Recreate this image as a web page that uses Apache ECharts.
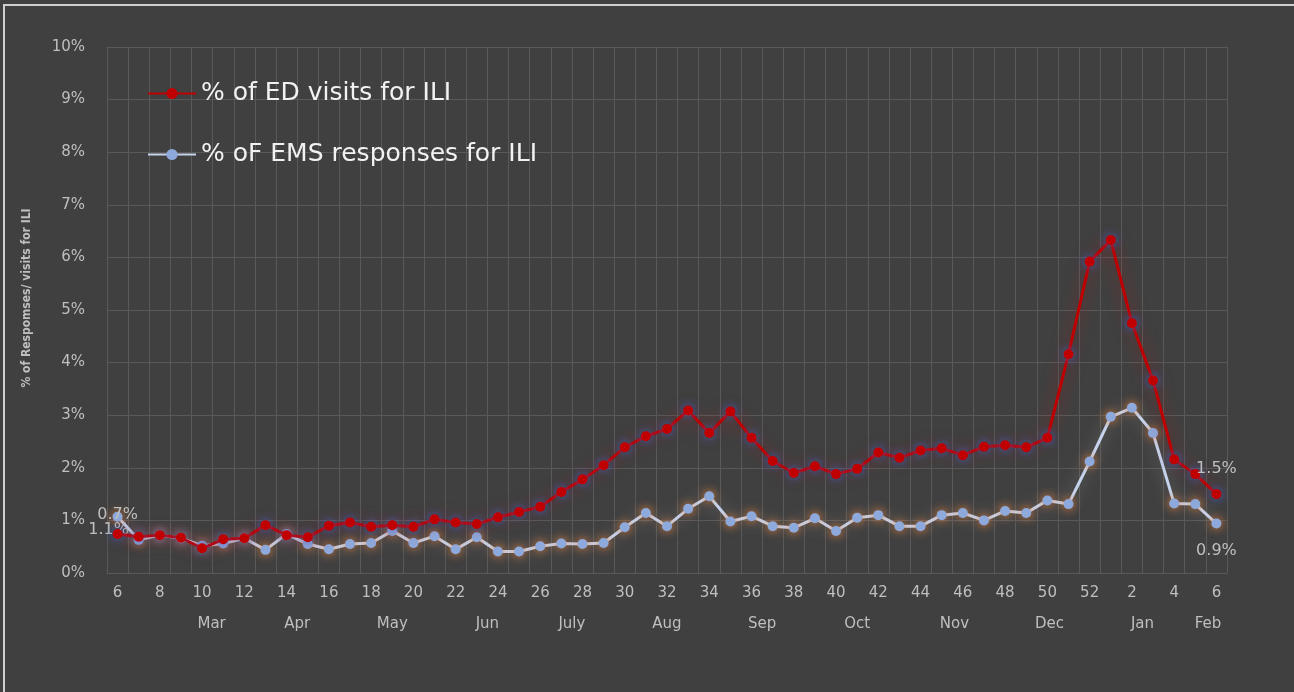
<!DOCTYPE html>
<html>
<head>
<meta charset="utf-8">
<script src="https://cdn.jsdelivr.net/npm/echarts@6/dist/echarts.min.js"></script>
<style>
html,body{margin:0;padding:0;background:#404040;}
#chart{position:absolute;left:0;top:0;width:1294px;height:692px;}
#frame{position:absolute;left:3px;top:4px;right:0;bottom:0;border-top:2px solid #cfcfcf;border-left:2px solid #cfcfcf;pointer-events:none;}
</style>
</head>
<body>
<div id="chart"></div>
<div id="frame"></div>
<script>
// Week labels (weeks 6..52, then 1..6)
var weeks = ['6','7','8','9','10','11','12','13','14','15','16','17','18','19','20','21','22','23','24','25','26','27','28','29','30','31','32','33','34','35','36','37','38','39','40','41','42','43','44','45','46','47','48','49','50','51','52','1','2','3','4','5','6'];
// % of ED visits for ILI
var edVisits = [0.74,0.69,0.72,0.67,0.47,0.64,0.66,0.91,0.72,0.68,0.90,0.96,0.88,0.91,0.88,1.02,0.96,0.93,1.06,1.16,1.26,1.54,1.78,2.05,2.39,2.60,2.74,3.09,2.66,3.07,2.57,2.13,1.90,2.03,1.88,1.98,2.29,2.19,2.33,2.37,2.24,2.40,2.43,2.39,2.57,4.16,5.92,6.33,4.75,3.66,2.16,1.88,1.50];
// % oF EMS responses for ILI
var emsResponses = [1.07,0.63,0.72,0.66,0.52,0.56,0.66,0.44,0.74,0.55,0.45,0.55,0.57,0.80,0.57,0.70,0.45,0.68,0.41,0.41,0.51,0.56,0.55,0.57,0.87,1.14,0.89,1.22,1.46,0.98,1.08,0.89,0.86,1.04,0.80,1.05,1.10,0.89,0.89,1.10,1.14,1.00,1.18,1.14,1.38,1.31,2.12,2.97,3.14,2.66,1.32,1.31,0.94];
// Month group labels and the (fractional) week index each is centred on
var monthNames = ['Mar','Apr','May','Jun','July','Aug','Sep','Oct','Nov','Dec','Jan','Feb'];
var monthCenters = [4.45,8.5,13,17.5,21.5,26,30.5,35,39.6,44.1,48.5,51.6];
var yTicks = [0,1,2,3,4,5,6,7,8,9,10];

var labelColor = '#BFBFBF';
var gridColor = '#595959';
var lastIdx = weeks.length - 1;

function pct(v){ return v.toFixed(1) + '%'; }

var edData = edVisits.map(function(v,i){
  var d = {value: v};
  if (i === 0) d.label = {show:true, position:'top', distance:6, formatter: pct(v)};
  if (i === lastIdx) d.label = {show:true, position:'top', distance:12, formatter: pct(v)};
  return d;
});
var emsData = emsResponses.map(function(v,i){
  var d = {value: v};
  if (i === 0) d.label = {show:true, position:'inside', offset:[-9,13], formatter: pct(v)};
  if (i === lastIdx) d.label = {show:true, position:'bottom', distance:14, formatter: pct(v)};
  return d;
});

var chart = echarts.init(document.getElementById('chart'), null, {renderer:'canvas'});
chart.setOption({
  backgroundColor: '#404040',
  animation: false,
  textStyle: {fontFamily: 'DejaVu Sans'},
  grid: {left:107, right:67, top:47, bottom:119, containLabel:false},
  legend: {
    orient: 'vertical',
    left: 142,
    top: 76,
    itemWidth: 48,
    itemHeight: 14,
    itemGap: 36,
    textStyle: {color:'#F2F2F2', fontSize:25, fontFamily:'DejaVu Sans'},
    data: ['% of ED visits for ILI', '% oF EMS responses for ILI']
  },
  xAxis: [{
    type: 'category',
    data: weeks,
    boundaryGap: true,
    axisLine: {show:true, lineStyle:{color:gridColor}},
    axisTick: {show:false},
    splitLine: {show:true, interval:0, lineStyle:{color:gridColor, width:1}},
    axisLabel: {interval:1, color:labelColor, fontSize:15, margin:13}
  },{
    type: 'value',
    min: -0.5,
    max: 52.5,
    position: 'bottom',
    offset: 31,
    axisLine: {show:false},
    axisTick: {show:false},
    splitLine: {show:false},
    axisLabel: {
      show: true,
      color: labelColor,
      fontSize: 15,
      margin: 13,
      customValues: monthCenters,
      formatter: function(v){
        var k = -1, best = 1e9;
        for (var j=0;j<monthCenters.length;j++){ var d=Math.abs(monthCenters[j]-v); if(d<best){best=d;k=j;} }
        return best < 0.01 ? monthNames[k] : '';
      }
    }
  }],
  yAxis: {
    type: 'value',
    min: yTicks[0],
    max: yTicks[yTicks.length-1],
    interval: 1,
    name: '% of Respomses/ visits for ILI',
    nameLocation: 'middle',
    nameGap: 74,
    nameTextStyle: {color:labelColor, fontSize:12, fontWeight:'bold', fontFamily:"'DejaVu Sans Condensed', 'Liberation Sans Narrow', sans-serif", padding:[0,0,0,24]},
    axisLine: {show:false},
    axisTick: {show:false},
    splitLine: {show:true, lineStyle:{color:gridColor, width:1}},
    axisLabel: {color:labelColor, fontSize:15, margin:22, formatter:'{value}%'}
  },
  series: [{
    name: '% of ED visits for ILI',
    type: 'line',
    xAxisIndex: 0,
    data: edData,
    symbol: 'circle',
    symbolSize: 10,
    z: 3,
    lineStyle: {color:'#C00000', width:3, shadowColor:'rgba(200,20,20,0.6)', shadowBlur:16},
    itemStyle: {color:'#C00000', shadowColor:'rgba(60,100,210,1)', shadowBlur:10},
    label: {color:labelColor, fontSize:16}
  },{
    name: '% oF EMS responses for ILI',
    type: 'line',
    xAxisIndex: 0,
    data: emsData,
    symbol: 'circle',
    symbolSize: 10,
    z: 2,
    lineStyle: {color:'#C5D3EC', width:3, shadowColor:'rgba(210,210,210,0.4)', shadowBlur:16},
    itemStyle: {color:'#8EA9DB', shadowColor:'rgba(237,125,49,1)', shadowBlur:10},
    label: {color:labelColor, fontSize:16}
  }]
});
</script>
</body>
</html>
